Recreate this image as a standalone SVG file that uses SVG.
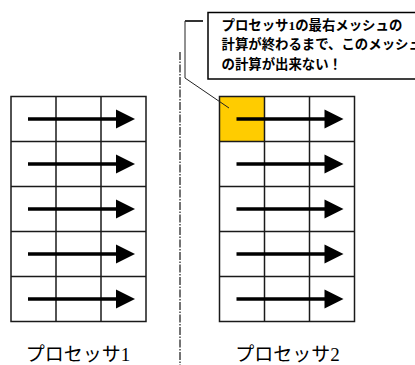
<svg xmlns="http://www.w3.org/2000/svg" xmlns:xlink="http://www.w3.org/1999/xlink" width="415" height="365" viewBox="0 0 415 365">
<style>
.grid{fill:none;stroke:#1a1a1a;stroke-width:1.5}
.arr{stroke:#000;stroke-width:3.5;fill:none}
.head{fill:#000;stroke:none}
.jp{font-family:"Noto Sans CJK JP","Noto Sans CJK SC",sans-serif;fill:#000}
.num{font-family:"Liberation Serif",serif}
.lead{fill:none;stroke:#222;stroke-width:1}
</style>
<defs>
<g id="arrow">
<line class="arr" x1="0" y1="0" x2="90" y2="0"/>
<polygon class="head" points="88,-9.5 107,0 88,9.5"/>
</g>
<g id="gridlines">
<rect x="0" y="0" width="135" height="225" class="grid"/>
<line class="grid" x1="45" y1="0" x2="45" y2="225"/>
<line class="grid" x1="90" y1="0" x2="90" y2="225"/>
<line class="grid" x1="0" y1="45" x2="135" y2="45"/>
<line class="grid" x1="0" y1="90" x2="135" y2="90"/>
<line class="grid" x1="0" y1="135" x2="135" y2="135"/>
<line class="grid" x1="0" y1="180" x2="135" y2="180"/>
</g>
</defs>
<rect width="415" height="365" fill="#fff"/>
<line x1="180" y1="52" x2="180" y2="365" stroke="#444" stroke-width="1.5" stroke-dasharray="8,1.5,1.5,1.5"/>
<g id="grid1" transform="translate(11,96.5)">
<use xlink:href="#gridlines"/>
</g>
<g id="grid2" transform="translate(219.5,96.5)">
<rect x="0" y="0" width="45" height="45" fill="#FFCC00"/>
<use xlink:href="#gridlines"/>
</g>
<g id="connectors">
<use xlink:href="#arrow" x="28" y="119"/>
<use xlink:href="#arrow" x="28" y="164"/>
<use xlink:href="#arrow" x="28" y="209"/>
<use xlink:href="#arrow" x="28" y="254"/>
<use xlink:href="#arrow" x="28" y="299"/>
<use xlink:href="#arrow" x="236.5" y="119"/>
<use xlink:href="#arrow" x="236.5" y="164"/>
<use xlink:href="#arrow" x="236.5" y="209"/>
<use xlink:href="#arrow" x="236.5" y="254"/>
<use xlink:href="#arrow" x="236.5" y="299"/>
<polyline class="lead" points="185,21 185,78 229,108"/>
<line x1="185" y1="21" x2="203" y2="21" stroke="#333" stroke-width="2"/>
</g>
<g id="callout">
<rect x="208" y="12.5" width="230" height="66.5" fill="#fff" stroke="#000" stroke-width="1.5"/>
<text class="jp" font-size="13.4" font-weight="bold" x="221.5" y="29.5">プロセッサ<tspan class="num">1</tspan>の最右メッシュの</text>
<text class="jp" font-size="13.4" font-weight="bold" x="221.5" y="49">計算が終わるまで、このメッシュ</text>
<text class="jp" font-size="13.4" font-weight="bold" x="221.5" y="68.5">の計算が出来ない！</text>
</g>
<g id="label1">
<text class="jp" font-size="19" x="78" y="361" text-anchor="middle">プロセッサ<tspan class="num">1</tspan></text>
</g>
<g id="label2">
<text class="jp" font-size="19" x="287.5" y="361" text-anchor="middle">プロセッサ<tspan class="num">2</tspan></text>
</g>
</svg>
